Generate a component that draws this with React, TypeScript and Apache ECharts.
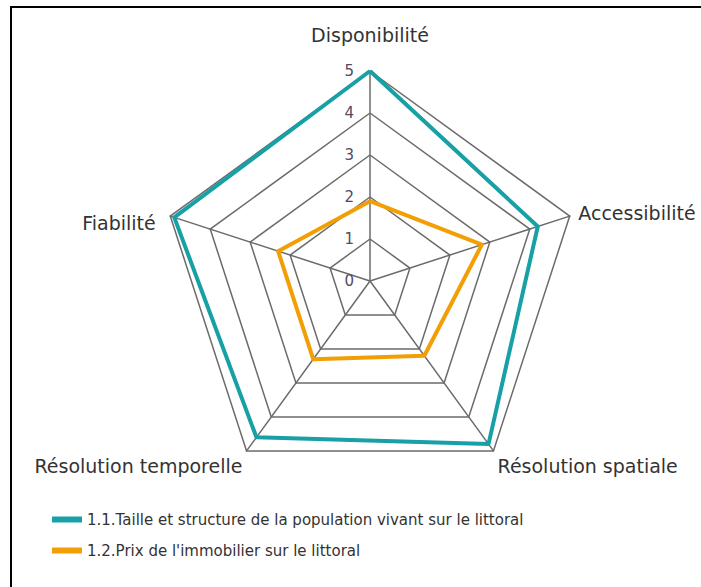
import React, { useEffect, useRef } from "react";
import * as echarts from "echarts";

const indicatorNames = [
  "Disponibilité",
  "Fiabilité",
  "Résolution temporelle",
  "Résolution spatiale",
  "Accessibilité",
];
const maxValue = 5;
const seriesNames = [
  "1.1.Taille et structure de la population vivant sur le littoral",
  "1.2.Prix de l'immobilier sur le littoral",
];
const populationValues = [5, 4.9, 4.6, 4.8, 4.2];
const prixValues = [1.9, 2.3, 2.3, 2.2, 2.8];

const TEAL = "#17a0a6";
const ORANGE = "#f29f05";
const GRID = "#6b6b6b";
const FONT = "DejaVu Sans";

// per-indicator name text tweaks
const nameStyles: any[] = [
  { padding: [0, 0, 18, 0] },
  { padding: [0, 6, 0, 0], verticalAlign: "top" },
  { verticalAlign: "top" },
  { verticalAlign: "top" },
  { padding: [4, 0, 0, 0] },
];
const nameGaps = [9, 9, 7, 7, 9];

export default function App() {
  const ref = useRef<HTMLDivElement>(null);
  useEffect(() => {
    if (!ref.current) return;
    const chart = echarts.init(ref.current, null, { renderer: "svg" });
    chart.setOption({
      animation: false,
      backgroundColor: "#ffffff",
      graphic: [
        {
          type: "rect",
          shape: { x: 11, y: 7, width: 720, height: 620 },
          style: { fill: "none", stroke: "#000", lineWidth: 2 },
          silent: true,
        },
      ],
      legend: {
        orient: "vertical",
        left: 47,
        top: 507,
        itemGap: 16,
        itemWidth: 30,
        itemHeight: 6,
        icon: "rect",
        textStyle: { fontFamily: FONT, fontSize: 15, color: "#333" },
        data: seriesNames,
      },
      radar: {
        center: [370, 281],
        radius: 210,
        startAngle: 90,
        splitNumber: 5,
        shape: "polygon",
        nameGap: 9,
        axisName: { fontFamily: FONT, fontSize: 19, color: "#333" },
        axisLine: { lineStyle: { color: GRID, width: 1.5 } },
        splitLine: { lineStyle: { color: GRID, width: 1.5 } },
        splitArea: { show: false },
        axisTick: { show: false },
        axisLabel: { show: false },
        indicator: indicatorNames.map((name, i) => {
          const ind: any = {
            name,
            min: 0,
            max: maxValue,
            nameGap: nameGaps[i],
            nameTextStyle: nameStyles[i],
          };
          if (i === 0) {
            ind.axisLabel = {
              show: true,
              margin: 16,
              fontFamily: FONT,
              fontSize: 15,
              color: "#554a66",
            };
          }
          return ind;
        }),
      },
      series: [
        {
          type: "radar",
          symbol: "none",
          data: [
            {
              name: seriesNames[0],
              value: populationValues,
              lineStyle: { color: TEAL, width: 4 },
              itemStyle: { color: TEAL },
            },
            {
              name: seriesNames[1],
              value: prixValues,
              lineStyle: { color: ORANGE, width: 4 },
              itemStyle: { color: ORANGE },
            },
          ],
        },
      ],
    });
    return () => chart.dispose();
  }, []);
  return (
    <div
      ref={ref}
      style={{ position: "fixed", left: 0, top: 0, width: 701, height: 587, background: "#fff" }}
    />
  );
}
